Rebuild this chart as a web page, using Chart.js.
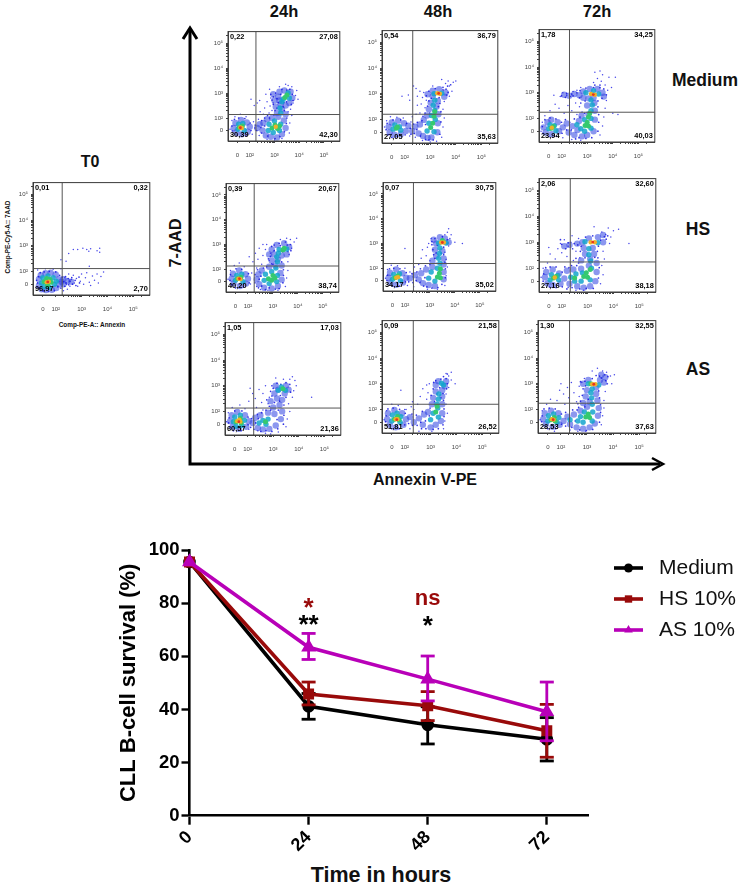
<!DOCTYPE html>
<html>
<head>
<meta charset="utf-8">
<script src="https://cdn.jsdelivr.net/npm/chart.js@4"></script>
<style>
  html, body { margin: 0; padding: 0; background: #fff; }
  body { position: relative; width: 742px; height: 887px; overflow: hidden; font-family: "Liberation Sans", Arial, sans-serif; }
  canvas { position: absolute; }
  canvas.dots { filter: blur(0.4px); }
  svg { position: absolute; left: 0; top: 0; }
  .lbl { position: absolute; font-weight: bold; color: #111; white-space: nowrap; transform: translate(-50%, -50%); }
  .rot { transform: translate(-50%, -50%) rotate(-90deg); }
</style>
</head>
<body>
<svg width="742" height="500">
  <path d="M190 30V464H660" fill="none" stroke="#000" stroke-width="3"/>
  <path d="M183 39L190 28L197 39" fill="none" stroke="#000" stroke-width="3"/>
  <path d="M652 458L663 464L652 470" fill="none" stroke="#000" stroke-width="2.5"/>
</svg>
<div class="lbl" style="left:90px;top:162px;font-size:16px">T0</div>
<div class="lbl" style="left:284px;top:11px;font-size:16.5px">24h</div>
<div class="lbl" style="left:438px;top:11px;font-size:16.5px">48h</div>
<div class="lbl" style="left:597px;top:11px;font-size:16.5px">72h</div>
<div class="lbl" style="left:705px;top:80px;font-size:17.5px">Medium</div>
<div class="lbl" style="left:698px;top:229px;font-size:17.5px">HS</div>
<div class="lbl" style="left:698px;top:369px;font-size:17.5px">AS</div>
<div class="lbl rot" style="left:176px;top:243px;font-size:16px">7-AAD</div>
<div class="lbl" style="left:425px;top:480px;font-size:16px">Annexin V-PE</div>
<div class="lbl rot" style="left:7px;top:237px;font-size:6.4px">Comp-PE-Cy5-A:: 7AAD</div>
<div class="lbl" style="left:92px;top:324px;font-size:6.4px">Comp-PE-A:: Annexin</div>
<div class="lbl" style="left:381px;top:875px;font-size:21.5px">Time in hours</div>

<script>
// survival curves
var hours = [0, 24, 48, 72];
var mediumMean = [95.5, 41.2, 34.2, 28.8];
var mediumLow = [95.5, 36.3, 27, 20.6];
var mediumHigh = [95.5, 46, 41, 36.9];
var hsMean = [95.5, 45.8, 41.4, 32];
var hsLow = [95.5, 41.7, 35.8, 22];
var hsHigh = [95.5, 50.3, 46.7, 41.9];
var asMean = [95.5, 63.4, 51.4, 39.1];
var asLow = [95.5, 58.8, 43.2, 28.2];
var asHigh = [95.5, 68.6, 60.1, 50.3];
var seriesNames = ["Medium", "HS 10%", "AS 10%"];
var survivalTicks = [0, 20, 40, 60, 80, 100];

// quadrant percentages: upper left, upper right, lower left, lower right
var t0Quad = ["0,01", "0,32", "96,97", "2,70"];
var med24Quad = ["0,22", "27,08", "30,39", "42,30"];
var med48Quad = ["0,54", "36,79", "27,05", "35,63"];
var med72Quad = ["1,78", "34,25", "23,94", "40,03"];
var hs24Quad = ["0,39", "20,67", "40,20", "38,74"];
var hs48Quad = ["0,07", "30,75", "34,17", "35,02"];
var hs72Quad = ["2,06", "32,60", "27,16", "38,18"];
var as24Quad = ["1,05", "17,03", "60,57", "21,36"];
var as48Quad = ["0,09", "21,58", "51,81", "26,52"];
var as72Quad = ["1,30", "32,55", "28,53", "37,63"];

// gate lines, in decades (annexin, 7-AAD)
var t0Gate = [2.25, 2.11];
var med24Gate = [2.25, 2.14];
var med48Gate = [2.32, 2.2];
var med72Gate = [2.31, 2.24];
var hs24Gate = [2.25, 2.13];
var hs48Gate = [2.34, 2.19];
var hs72Gate = [2.33, 2.24];
var as24Gate = [2.24, 2.13];
var as48Gate = [2.33, 2.2];
var as72Gate = [2.33, 2.24];

// events, decades on both axes, grouped by density colour
var t0Speck = [[2.35,1.75],[2.42,1.5],[2.5,1.9],[2.55,1.42],[2.6,1.68],[2.68,1.85],[2.72,1.55],[2.8,1.72],[2.85,1.42],[2.95,1.62],[3.0,1.9],[3.08,1.5],[3.15,1.75],[3.2,1.95],[3.3,1.58],[3.35,1.45],[3.42,1.82],[3.5,1.65],[3.6,1.9],[3.65,1.55],[3.75,1.8],[3.85,1.98],[2.3,1.25],[2.45,1.3],[2.2,2.1],[2.5,2.7],[2.4,2.4],[2.68,2.85],[2.85,2.85],[3.05,2.9],[3.2,2.85],[3.28,2.78],[3.35,2.88],[3.6,2.8],[3.7,2.9],[3.7,2.75],[2.2,2.45],[3.3,2.2],[1.3,2.05],[1.6,2.1],[1.9,2.08]];
var t0Fine = [[1.3,1.55],[1.33,1.8],[1.38,1.35],[1.4,1.95],[1.5,1.25],[1.55,1.98],[1.72,1.22],[1.75,2.0],[1.95,1.25],[2.0,1.98],[2.08,1.4],[2.15,1.85],[2.2,1.35],[2.25,1.78],[2.3,1.6],[2.35,1.42],[2.38,1.8],[2.4,1.55],[2.48,1.72],[2.5,1.48],[2.55,1.62],[2.65,1.5],[2.62,1.76],[2.75,1.65],[2.78,1.45],[2.9,1.78],[2.92,1.55],[1.26,1.65],[1.28,1.4]];
var t0Blue = [[1.35,1.45],[1.35,1.7],[1.42,1.85],[1.45,1.3],[1.6,1.93],[1.62,1.27],[1.8,1.95],[1.85,1.28],[2.0,1.88],[2.02,1.35],[2.12,1.7],[2.15,1.5],[2.22,1.6],[2.3,1.7],[2.3,1.5],[2.45,1.62],[2.6,1.6]];
var t0Teal = [[1.45,1.55],[1.5,1.75],[1.55,1.4],[1.7,1.82],[1.75,1.38],[1.9,1.75],[1.95,1.5],[2.02,1.62]];
var t0Green = [[1.55,1.6],[1.65,1.72],[1.68,1.47],[1.82,1.58],[1.78,1.68]];
var t0Hot = [[1.65,1.58],[1.73,1.6]];
var t0Red = [[1.69,1.59]];

var med24Speck = [[1.2,1.55],[1.28,1.9],[1.4,2.05],[1.62,2.15],[1.85,2.05],[2.1,1.35],[2.15,1.85],[2.2,1.6],[2.38,1.3],[2.35,1.95],[2.42,2.25],[2.18,2.5],[2.3,2.6],[2.05,2.75],[2.4,2.7],[2.55,2.15],[2.6,2.4],[2.7,2.65],[2.65,2.95],[2.78,2.2],[2.82,2.48],[2.85,2.8],[2.8,3.15],[2.9,2.3],[2.95,2.6],[3.6,1.4],[3.62,1.8],[3.7,2.1],[3.65,2.35],[3.75,2.6],[3.85,2.9],[3.9,3.1],[3.7,3.25],[3.55,3.3],[3.45,3.35],[3.2,3.25],[3.95,2.75],[3.55,2.25],[3.0,1.12],[2.7,1.15],[3.3,1.18]];
var med24Fine = [[1.28,1.68],[1.3,1.48],[1.38,1.95],[1.5,1.3],[1.55,2.0],[1.8,1.98],[1.85,1.3],[2.02,1.8],[2.05,1.5],[2.22,1.72],[2.28,1.5],[2.45,1.62],[2.48,1.4],[2.48,1.9],[2.6,1.68],[2.6,2.0],[2.72,1.28],[2.72,2.1],[2.8,2.0],[2.98,2.12],[3.02,1.18],[3.22,1.25],[3.4,1.45],[3.48,1.78],[3.5,2.0],[3.02,2.3],[3.4,2.3],[2.95,2.55],[3.15,2.62],[3.38,2.62],[3.48,2.65],[2.9,2.72],[2.95,2.85],[3.05,3.0],[3.1,2.78],[3.25,2.95],[3.3,3.15],[3.5,3.12],[3.62,3.15],[3.72,2.95],[3.75,2.7],[3.68,2.55],[3.35,2.45],[3.1,2.4],[2.85,2.95]];
var med24Blue = [[1.35,1.6],[1.42,1.8],[1.45,1.42],[1.65,1.92],[1.68,1.35],[1.88,1.82],[1.92,1.45],[2.0,1.65],[2.3,1.6],[2.4,1.75],[2.52,1.5],[2.55,1.8],[2.65,1.3],[2.7,1.95],[2.85,1.25],[2.9,2.0],[3.1,1.22],[3.15,2.05],[3.3,1.35],[3.38,1.9],[3.45,1.6],[3.45,2.15],[3.1,2.2],[3.3,2.35],[3.05,2.45],[3.25,2.55],[3.45,2.5],[3.0,2.7],[3.15,2.85],[2.95,2.95],[3.2,3.05],[3.4,3.1],[3.65,3.05],[3.72,2.8],[3.6,2.6],[3.2,2.7]];
var med24Teal = [[1.52,1.55],[1.55,1.75],[1.72,1.78],[1.78,1.5],[2.75,1.5],[2.78,1.75],[2.95,1.42],[3.0,1.88],[3.2,1.5],[3.25,1.75],[3.25,2.2],[3.22,2.4],[3.3,2.65],[3.35,2.75],[3.55,3.0],[3.6,2.8]];
var med24Green = [[1.58,1.62],[1.7,1.68],[2.9,1.6],[3.02,1.72],[3.12,1.58],[3.2,1.68],[3.42,2.82],[3.5,2.92]];
var med24Hot = [[1.62,1.62],[1.68,1.6],[3.05,1.65]];
var med24Red = [[1.62,1.61]];

var med48Speck = [[1.22,1.7],[1.3,1.95],[1.45,2.1],[1.7,2.08],[1.95,2.05],[2.2,1.35],[2.25,1.9],[2.3,2.1],[2.42,1.3],[2.45,2.2],[2.5,2.55],[2.2,2.75],[2.15,2.95],[2.5,2.9],[2.6,2.25],[2.65,2.6],[2.7,2.85],[2.75,3.05],[2.8,2.45],[2.85,2.75],[2.6,3.1],[3.45,1.3],[3.5,1.7],[3.55,2.05],[3.5,2.4],[3.55,2.7],[3.75,2.9],[3.85,3.1],[3.75,3.3],[3.6,3.4],[3.9,3.45],[3.7,3.5],[3.45,3.55],[3.1,3.3],[3.0,1.12],[2.7,1.18],[3.25,1.15],[4.0,3.5],[1.9,2.9],[2.35,3.3],[2.45,3.2]];
var med48Fine = [[1.28,1.6],[1.32,1.85],[1.35,1.4],[1.5,1.3],[1.55,1.98],[1.72,1.32],[1.85,1.98],[2.02,1.4],[2.08,1.85],[2.22,1.65],[2.25,1.42],[2.35,1.82],[2.38,1.45],[2.48,1.6],[2.5,1.88],[2.62,1.35],[2.68,1.95],[2.72,2.12],[2.82,1.22],[2.82,1.8],[2.95,1.2],[2.8,2.25],[2.98,2.25],[3.12,1.2],[3.38,1.42],[3.42,1.9],[3.42,2.3],[2.9,2.52],[3.32,2.5],[3.38,2.62],[2.95,2.72],[3.05,2.82],[3.35,2.85],[2.85,2.92],[2.95,3.1],[3.2,3.2],[3.5,3.15],[3.62,3.18],[3.7,3.05],[3.65,2.95],[3.5,3.25],[3.68,3.3],[3.8,3.35]];
var med48Blue = [[1.38,1.72],[1.42,1.5],[1.5,1.88],[1.6,1.4],[1.75,1.95],[1.85,1.42],[1.98,1.85],[2.05,1.55],[2.15,1.75],[2.3,1.55],[2.42,1.72],[2.55,1.45],[2.6,1.8],[2.72,1.35],[2.75,1.98],[2.9,1.28],[2.88,2.15],[3.05,1.3],[3.28,1.5],[3.3,1.85],[3.32,2.2],[2.95,2.4],[3.25,2.5],[3.02,2.65],[3.3,2.72],[3.1,2.9],[2.9,2.98],[3.1,3.12],[3.35,3.18],[3.6,3.05],[3.55,2.88]];
var med48Teal = [[1.55,1.62],[1.62,1.78],[1.8,1.72],[1.85,1.58],[2.88,1.55],[2.95,1.85],[3.15,1.52],[3.2,2.0],[3.05,2.15],[3.18,2.35],[3.12,2.55],[3.18,2.75],[3.15,3.0],[3.45,3.02]];
var med48Green = [[1.68,1.65],[1.72,1.7],[3.02,1.68],[3.1,1.85],[3.15,2.12],[3.18,2.3]];
var med48Hot = [[3.28,3.02],[3.38,3.0]];
var med48Red = [[3.33,3.01]];

var med72Speck = [[1.2,1.5],[1.25,1.85],[1.35,2.1],[1.55,2.3],[1.75,2.55],[1.9,2.4],[1.95,2.85],[2.05,3.0],[2.2,2.9],[2.1,2.2],[2.25,2.5],[2.35,2.85],[2.45,3.05],[2.4,2.3],[2.55,2.6],[2.6,3.1],[2.6,2.15],[2.7,2.45],[2.75,3.2],[2.8,2.25],[2.05,1.25],[2.4,1.18],[2.75,1.15],[3.5,1.35],[3.6,1.7],[3.65,2.05],[3.7,2.4],[3.75,2.7],[3.8,3.1],[3.7,3.3],[3.55,3.45],[3.4,3.55],[3.6,3.7],[3.25,3.4],[3.85,3.6],[3.95,3.2],[4.1,3.6],[4.0,2.2],[4.2,2.15],[1.7,2.9],[3.3,3.8],[3.5,3.85]];
var med72Fine = [[1.25,1.68],[1.28,1.42],[1.35,1.95],[1.5,1.3],[1.55,2.02],[1.78,1.98],[1.8,1.3],[2.0,1.85],[2.02,1.42],[2.15,1.95],[2.2,1.55],[2.32,1.85],[2.38,1.55],[2.5,1.98],[2.55,1.2],[2.72,2.05],[2.68,1.25],[2.95,1.22],[3.18,1.25],[3.42,1.5],[3.45,1.85],[3.45,2.15],[2.9,2.2],[2.75,2.6],[3.42,2.45],[2.92,2.68],[3.42,2.68],[2.7,2.8],[2.45,2.88],[2.2,2.98],[2.0,2.88],[2.6,3.0],[2.4,2.95],[2.72,3.08],[2.95,3.18],[3.25,3.2],[3.5,3.2],[3.65,3.15],[3.75,2.92],[3.5,3.3],[3.3,3.3],[3.58,2.78],[2.15,2.82]];
var med72Blue = [[1.3,1.65],[1.38,1.45],[1.45,1.85],[1.6,1.95],[1.62,1.38],[1.85,1.85],[1.9,1.5],[2.05,1.65],[2.2,1.8],[2.28,1.45],[2.42,1.7],[2.5,1.35],[2.62,1.55],[2.68,1.9],[2.8,1.3],[2.78,2.1],[3.0,1.35],[3.05,2.15],[3.25,1.5],[3.3,1.95],[3.3,2.3],[3.0,2.5],[3.28,2.6],[3.05,2.78],[3.25,2.8],[2.7,2.9],[2.5,2.95],[2.3,2.88],[2.1,2.92],[2.85,3.05],[3.1,3.15],[3.4,3.15],[3.6,3.0],[3.65,2.85],[2.85,2.8]];
var med72Teal = [[1.5,1.6],[1.55,1.75],[1.72,1.72],[1.78,1.52],[2.6,1.75],[2.75,1.6],[2.9,1.5],[2.9,1.95],[3.15,1.62],[3.15,2.0],[3.15,2.3],[3.2,2.52],[3.15,2.72],[2.95,3.0],[3.45,2.95],[3.25,3.08]];
var med72Green = [[1.6,1.62],[1.68,1.68],[2.92,1.72],[3.0,1.85],[3.05,1.7],[3.05,2.05],[3.1,2.2]];
var med72Hot = [[1.62,1.64],[3.15,2.95],[3.3,2.92]];
var med72Red = [[3.24,2.93]];

var hs24Speck = [[1.2,1.6],[1.3,1.95],[1.45,2.15],[1.65,2.25],[1.85,2.1],[2.1,1.4],[2.15,1.85],[2.05,2.5],[2.2,2.3],[2.3,2.65],[2.35,2.05],[2.4,2.4],[2.45,2.85],[2.35,1.3],[2.55,2.2],[2.6,2.55],[2.7,2.8],[2.75,3.0],[2.85,2.35],[2.9,2.65],[2.6,3.0],[3.5,1.3],[3.55,1.65],[3.6,1.95],[3.6,2.3],[3.65,2.6],[3.75,2.85],[3.85,3.1],[3.7,3.2],[3.95,3.25],[3.55,3.25],[3.3,3.2],[3.2,1.15],[2.8,1.15],[2.5,1.18]];
var hs24Fine = [[1.28,1.55],[1.3,1.78],[1.35,1.38],[1.5,1.25],[1.52,2.02],[1.75,2.0],[1.82,1.28],[2.02,1.82],[2.05,1.45],[2.28,1.45],[2.28,1.78],[2.38,1.98],[2.45,1.6],[2.42,1.25],[2.52,1.72],[2.55,1.32],[2.62,2.05],[2.7,1.18],[2.75,2.1],[2.85,1.25],[2.95,2.22],[3.1,1.2],[3.25,1.22],[3.4,1.45],[3.42,1.75],[3.42,1.98],[3.0,2.2],[3.35,2.3],[2.82,2.42],[3.1,2.32],[2.9,2.52],[3.4,2.7],[3.05,2.75],[2.95,2.92],[3.05,2.98],[3.25,3.05],[3.5,3.1],[3.7,3.0],[3.72,2.75],[3.58,2.98],[3.6,2.72],[3.3,2.95]];
var hs24Blue = [[1.35,1.62],[1.4,1.82],[1.42,1.42],[1.65,1.95],[1.68,1.32],[1.9,1.8],[1.92,1.42],[2.0,1.62],[2.35,1.6],[2.42,1.8],[2.45,1.4],[2.55,1.95],[2.65,1.25],[2.85,2.1],[2.95,1.22],[3.1,2.15],[3.2,1.32],[3.3,1.85],[3.35,1.58],[3.35,2.15],[2.95,2.35],[3.2,2.4],[3.05,2.6],[3.35,2.55],[2.95,2.8],[3.15,2.98],[3.45,3.05],[3.65,2.9],[3.55,2.6],[2.85,2.6]];
var hs24Teal = [[1.5,1.55],[1.55,1.75],[1.75,1.8],[1.8,1.5],[2.65,1.55],[2.7,1.8],[2.85,1.42],[2.95,1.9],[3.15,1.5],[3.18,1.75],[3.12,2.05],[3.18,2.3],[3.15,2.5],[3.22,2.65],[3.25,2.8],[3.55,2.82]];
var hs24Green = [[1.58,1.62],[1.72,1.68],[2.82,1.62],[2.95,1.55],[3.0,1.75],[3.08,1.65],[3.4,2.78],[3.45,2.85]];
var hs24Hot = [[1.62,1.62],[1.7,1.6]];
var hs24Red = [[1.66,1.62]];

var hs48Speck = [[1.22,1.6],[1.3,1.95],[1.45,2.12],[1.7,2.1],[2.0,2.0],[2.1,1.3],[2.2,1.85],[2.0,2.8],[2.35,1.25],[2.38,2.05],[2.55,2.15],[2.65,2.4],[2.7,2.75],[2.85,2.5],[2.9,2.85],[2.95,3.0],[3.0,2.3],[3.05,3.2],[3.6,1.3],[3.65,1.7],[3.7,2.05],[3.65,2.35],[3.6,2.65],[3.75,2.9],[3.8,3.2],[3.85,3.35],[3.7,3.45],[3.75,3.6],[3.6,3.35],[4.0,3.05],[4.3,3.0],[3.3,1.15],[2.9,1.15]];
var hs48Fine = [[1.28,1.5],[1.3,1.72],[1.38,1.98],[1.5,1.28],[1.55,2.0],[1.78,1.28],[1.8,1.98],[2.02,1.45],[2.05,1.82],[2.15,1.45],[2.28,1.78],[2.32,1.42],[2.45,1.5],[2.48,1.85],[2.6,1.42],[2.62,1.98],[2.75,1.28],[2.82,2.1],[2.8,1.62],[2.88,1.25],[3.0,2.15],[3.08,1.2],[3.32,1.22],[3.48,1.35],[3.62,1.62],[3.62,1.98],[3.25,2.2],[3.6,2.25],[3.15,2.55],[3.55,2.55],[3.12,2.75],[3.3,2.92],[3.55,2.85],[3.08,2.95],[3.08,3.08],[3.2,3.2],[3.5,3.28],[3.7,3.15],[3.72,3.02],[3.45,2.6],[3.2,2.4],[3.25,2.62]];
var hs48Blue = [[1.35,1.62],[1.4,1.82],[1.42,1.42],[1.65,1.95],[1.65,1.33],[1.9,1.8],[1.92,1.42],[2.05,1.62],[2.2,1.6],[2.4,1.72],[2.55,1.55],[2.65,1.8],[2.72,1.4],[2.85,1.95],[2.95,1.32],[3.1,2.05],[3.2,1.28],[3.55,1.55],[3.55,1.85],[3.55,2.15],[3.1,2.3],[3.25,2.5],[3.55,2.4],[3.2,2.75],[3.5,2.7],[3.25,3.0],[3.15,3.15],[3.6,3.2],[3.75,3.05],[3.4,3.25]];
var hs48Teal = [[1.5,1.55],[1.55,1.75],[1.78,1.78],[1.82,1.5],[2.95,1.6],[3.05,1.85],[3.2,1.48],[3.3,2.0],[3.4,2.2],[3.35,2.4],[3.38,2.6],[3.4,2.82],[3.35,3.02],[3.65,3.02]];
var hs48Green = [[1.6,1.62],[1.72,1.7],[3.3,1.65],[3.38,1.8],[3.42,1.62],[3.42,1.98],[3.5,3.12]];
var hs48Hot = [[1.65,1.62],[1.72,1.64],[3.45,3.04],[3.56,3.04]];
var hs48Red = [[3.5,3.04]];

var hs72Speck = [[1.2,1.65],[1.28,2.0],[1.45,2.2],[1.55,2.55],[1.75,2.35],[1.85,2.75],[1.95,2.95],[2.1,3.1],[2.0,2.6],[2.2,2.45],[2.25,2.85],[2.35,3.0],[2.45,2.3],[2.55,2.65],[2.65,3.15],[2.7,2.4],[2.25,1.25],[2.55,1.15],[2.85,1.15],[3.5,1.4],[3.6,1.75],[3.55,2.1],[3.65,2.35],[3.6,2.65],[3.85,2.95],[3.9,3.2],[3.7,3.3],[3.55,3.4],[4.0,3.45],[3.8,3.55],[4.2,3.5],[3.25,3.6],[4.6,2.95],[1.5,2.8],[2.4,3.25]];
var hs72Fine = [[1.28,1.5],[1.3,1.78],[1.38,2.02],[1.52,1.28],[1.55,2.05],[1.78,1.25],[1.78,2.05],[2.02,1.28],[2.02,1.85],[2.12,2.05],[2.2,1.2],[2.28,2.02],[2.4,1.25],[2.38,2.1],[2.58,2.1],[2.7,1.2],[2.65,2.2],[2.95,1.22],[3.22,1.22],[3.42,1.62],[3.45,2.02],[2.55,2.38],[2.62,2.9],[2.42,2.75],[2.72,2.65],[2.75,2.85],[2.48,2.95],[2.25,2.98],[2.15,2.75],[2.0,2.92],[1.95,3.1],[2.9,2.4],[3.4,2.4],[3.38,2.65],[3.42,2.85],[3.5,3.08],[3.72,3.12],[3.78,3.25],[3.2,3.25],[2.92,3.2],[3.65,3.22],[3.28,2.42]];
var hs72Blue = [[1.35,1.65],[1.4,1.85],[1.45,1.42],[1.65,1.95],[1.65,1.35],[1.9,1.8],[1.95,1.4],[2.1,1.6],[2.2,1.9],[2.3,1.4],[2.45,1.95],[2.6,1.3],[2.75,1.98],[2.85,1.25],[3.05,2.1],[3.1,1.3],[3.3,1.5],[3.35,1.85],[3.35,2.2],[2.75,2.3],[3.1,2.35],[2.9,2.55],[3.25,2.55],[2.85,2.78],[3.2,2.78],[2.8,3.0],[2.6,2.95],[2.3,2.9],[2.1,2.85],[3.05,3.15],[3.4,3.2],[3.6,3.0],[3.6,3.28]];
var hs72Teal = [[1.55,1.55],[1.6,1.75],[1.85,1.72],[1.88,1.55],[2.35,1.65],[2.5,1.5],[2.55,1.78],[2.75,1.5],[2.8,1.82],[3.1,1.55],[3.15,2.0],[3.12,2.28],[3.05,2.52],[3.05,2.75],[2.9,3.02],[3.4,2.98]];
var hs72Green = [[1.68,1.62],[1.78,1.68],[2.5,1.62],[2.85,1.68],[2.95,1.82],[3.0,1.65],[3.1,1.95]];
var hs72Hot = [[1.73,1.64],[3.12,3.0],[3.28,3.0]];
var hs72Red = [[3.2,3.01]];

var as24Speck = [[1.18,1.6],[1.25,1.95],[1.4,2.15],[1.7,2.25],[1.9,2.1],[2.05,1.3],[2.05,2.4],[2.2,2.7],[2.1,2.9],[2.3,2.5],[2.35,2.15],[2.45,2.85],[2.55,2.35],[2.6,2.7],[2.7,3.0],[2.8,2.3],[2.85,2.55],[2.4,1.25],[2.7,1.15],[3.5,1.4],[3.55,1.7],[3.65,2.0],[3.6,2.3],[3.75,2.55],[3.8,2.8],[3.9,3.0],[3.85,3.2],[3.65,3.25],[3.75,3.35],[3.4,3.25],[3.1,3.3],[4.5,2.55],[3.2,1.2],[2.9,1.12],[2.6,2.05]];
var as24Fine = [[1.26,1.55],[1.28,1.75],[1.32,1.38],[1.45,1.25],[1.5,2.02],[1.75,1.25],[1.78,2.02],[2.02,1.48],[2.02,1.78],[2.12,1.38],[2.15,1.72],[2.25,1.3],[2.32,1.55],[2.38,1.88],[2.42,1.72],[2.55,1.95],[2.52,1.22],[2.72,1.25],[2.72,2.05],[2.9,2.05],[2.95,1.22],[3.15,1.68],[3.18,1.32],[3.4,1.5],[3.42,1.85],[3.2,2.05],[2.85,2.2],[3.05,2.35],[3.42,2.25],[2.75,2.45],[2.95,2.6],[3.28,2.62],[3.5,2.55],[2.9,2.78],[3.0,2.9],[3.3,3.05],[3.5,3.12],[3.65,3.05],[3.68,2.75],[2.95,3.0],[3.15,3.1],[3.25,2.4]];
var as24Blue = [[1.32,1.62],[1.38,1.85],[1.42,1.4],[1.6,1.98],[1.65,1.32],[1.9,1.85],[1.95,1.4],[2.05,1.62],[2.2,1.55],[2.3,1.75],[2.4,1.35],[2.5,1.85],[2.6,1.3],[2.8,1.95],[2.85,1.32],[3.05,1.9],[3.1,1.45],[3.3,1.7],[3.35,2.0],[3.0,2.15],[3.25,2.25],[2.9,2.4],[3.15,2.5],[3.35,2.45],[3.05,2.7],[3.2,2.85],[3.45,2.7],[3.1,3.0],[3.6,2.85],[3.5,3.0]];
var as24Teal = [[1.45,1.6],[1.5,1.78],[1.55,1.42],[1.72,1.85],[1.78,1.45],[1.88,1.65],[2.45,1.55],[2.6,1.65],[2.72,1.5],[2.8,1.7],[3.2,2.82],[3.32,2.95],[3.48,2.82]];
var as24Green = [[1.55,1.6],[1.72,1.72],[1.75,1.55],[2.7,1.6],[3.38,2.88]];
var as24Hot = [[1.6,1.62],[1.72,1.6],[1.68,1.68]];
var as24Red = [[1.66,1.6]];

var as48Speck = [[1.2,1.6],[1.3,1.95],[1.5,2.2],[1.75,2.15],[2.0,2.0],[2.2,1.25],[2.25,2.1],[2.3,2.3],[2.5,2.2],[2.55,1.15],[2.6,2.5],[2.7,2.8],[2.85,2.4],[2.9,2.65],[2.95,3.0],[2.85,2.95],[3.05,1.15],[3.5,1.25],[3.55,1.55],[3.65,1.85],[3.6,2.2],[3.6,2.6],[3.7,2.85],[3.8,3.15],[3.7,3.3],[3.8,3.45],[3.95,3.0],[3.6,3.4],[2.35,2.0],[1.85,2.75],[2.05,2.0]];
var as48Fine = [[1.26,1.52],[1.28,1.75],[1.35,2.02],[1.5,1.25],[1.55,2.05],[1.78,1.25],[1.8,2.0],[2.0,1.4],[2.02,1.85],[2.15,1.45],[2.28,1.82],[2.3,1.38],[2.45,1.78],[2.48,1.38],[2.62,1.5],[2.65,1.25],[2.68,1.92],[2.8,1.55],[2.82,1.25],[2.95,1.75],[2.98,2.05],[3.1,1.22],[3.3,1.25],[3.48,1.4],[3.52,1.72],[3.52,2.02],[3.15,2.3],[3.5,2.35],[3.02,2.55],[3.48,2.62],[3.1,2.8],[3.35,2.85],[3.25,2.6],[3.12,3.05],[3.2,3.12],[3.4,3.18],[3.6,3.2],[3.65,3.0],[3.62,2.8],[3.5,3.28],[3.65,3.38],[3.4,2.45]];
var as48Blue = [[1.32,1.62],[1.35,1.85],[1.42,1.4],[1.6,1.98],[1.65,1.3],[1.9,1.85],[1.95,1.4],[2.05,1.62],[2.2,1.7],[2.35,1.5],[2.55,1.65],[2.7,1.4],[2.75,1.8],[2.9,1.9],[3.0,1.3],[3.2,1.4],[3.4,1.55],[3.45,1.85],[3.05,2.2],[3.45,2.2],[3.1,2.45],[3.45,2.5],[3.2,2.7],[3.45,2.75],[3.2,2.95],[3.3,3.1],[3.6,3.1],[3.55,2.9]];
var as48Teal = [[1.5,1.55],[1.52,1.78],[1.7,1.85],[1.82,1.5],[1.85,1.72],[3.0,1.6],[3.1,1.85],[3.3,1.7],[3.28,2.05],[3.25,2.2],[3.3,2.4],[3.32,2.6],[3.42,3.02],[3.5,2.95]];
var as48Green = [[1.6,1.62],[1.72,1.72],[1.78,1.6],[3.2,1.9],[3.25,2.12]];
var as48Hot = [[1.65,1.62],[1.72,1.62]];
var as48Red = [[1.69,1.6]];

var as72Speck = [[1.2,1.6],[1.28,1.95],[1.45,2.2],[1.6,2.4],[1.85,2.35],[1.95,2.75],[2.0,3.0],[2.1,2.6],[2.15,2.2],[2.25,2.85],[2.3,2.45],[2.4,3.05],[2.5,2.65],[2.6,2.3],[2.7,2.9],[2.7,2.5],[2.8,3.05],[2.35,1.2],[2.65,1.15],[2.95,1.15],[3.55,1.4],[3.6,1.75],[3.65,2.05],[3.65,2.35],[3.7,2.7],[3.95,3.0],[3.9,3.3],[3.75,3.45],[3.6,3.5],[4.05,3.35],[3.2,3.5],[3.4,3.6],[2.9,3.2],[1.75,1.15]];
var as72Fine = [[1.26,1.52],[1.28,1.75],[1.35,2.02],[1.5,1.25],[1.55,2.05],[1.8,1.25],[1.78,2.02],[2.02,1.42],[2.02,1.82],[2.18,1.35],[2.18,1.88],[2.32,1.62],[2.42,1.3],[2.45,1.98],[2.55,1.55],[2.62,1.98],[2.72,1.2],[2.68,2.08],[2.92,2.1],[2.98,1.18],[3.22,1.22],[3.48,1.5],[3.52,1.88],[3.52,2.18],[2.75,2.32],[3.48,2.45],[2.82,2.55],[3.45,2.72],[2.85,2.8],[2.95,2.92],[2.75,3.08],[2.92,3.1],[3.2,3.2],[3.55,3.22],[3.72,3.12],[3.78,3.0],[3.68,3.35],[3.48,3.3],[3.8,3.28],[3.35,3.32],[3.05,2.4],[2.65,2.22]];
var as72Blue = [[1.32,1.62],[1.38,1.85],[1.42,1.42],[1.62,1.95],[1.68,1.32],[1.9,1.85],[1.95,1.4],[2.1,1.55],[2.25,1.72],[2.35,1.42],[2.5,1.8],[2.6,1.3],[2.75,1.95],[2.85,1.25],[3.0,2.1],[3.1,1.3],[3.3,1.45],[3.42,1.75],[3.45,2.05],[2.85,2.25],[3.1,2.3],[3.4,2.35],[2.95,2.5],[3.35,2.6],[3.0,2.75],[3.35,2.85],[2.85,3.0],[3.05,3.15],[3.5,3.15],[3.65,3.05],[3.7,3.25],[3.55,3.35]];
var as72Teal = [[1.5,1.55],[1.52,1.75],[1.72,1.82],[1.85,1.5],[1.92,1.68],[2.35,1.6],[2.65,1.55],[2.75,1.72],[2.85,1.5],[2.9,1.9],[3.2,1.55],[3.22,1.9],[3.2,2.2],[3.18,2.45],[3.15,2.65],[3.2,2.8],[3.05,3.0],[3.45,2.95]];
var as72Green = [[1.62,1.6],[1.75,1.68],[1.78,1.55],[2.95,1.7],[3.05,1.82],[3.1,1.68],[3.15,3.0]];
var as72Hot = [[1.65,1.62],[1.72,1.6],[3.2,2.98],[3.32,2.98]];
var as72Red = [[1.7,1.6],[3.26,2.98]];

// axis decades shared by all dot plots
var decadeTicks = [1.5, 2, 3, 4, 5];
var decadeLabels = ["0", "10\u00b2", "10\u00b3", "10\u2074", "10\u2075"];

var xRange = [1.12, 5.64], yRange = [1.08, 5.46];
var minor = [];
[1, 2, 3, 4, 5].forEach(function (d) {
  [2, 3, 4, 5, 6, 7, 8, 9].forEach(function (m) {
    var v = d + Math.log10(m);
    if (d > 1 && v < 5.45) minor.push(v);
  });
});

function pts(a) {
  return a.map(function (p) { return { x: p[0], y: p[1] }; });
}

function cloud(data, color, radius, order) {
  return { type: "scatter", data: pts(data), backgroundColor: color, pointRadius: radius, pointBorderWidth: 0, pointHoverRadius: radius, order: order };
}

var framePlugin = {
  id: "frame",
  afterDatasetsDraw: function (chart, args, opts) {
    var a = chart.chartArea, c = chart.ctx, q = opts.quad;
    c.save();
    c.strokeStyle = "#3a3a3a";
    c.lineWidth = 1;
    c.strokeRect(a.left, a.top, a.right - a.left, a.bottom - a.top);
    c.font = "bold 7.4px 'Liberation Sans', Arial, sans-serif";
    c.fillStyle = "#000";
    c.textBaseline = "middle";
    c.textAlign = "left";
    c.fillText(q[0], a.left + 2, a.top + 5);
    c.fillText(q[2], a.left + 2, a.bottom - 6);
    c.textAlign = "right";
    c.fillText(q[1], a.right - 2, a.top + 5);
    c.fillText(q[3], a.right - 2, a.bottom - 6);
    c.restore();
  }
};

function dotPlot(box, speck, fine, blue, teal, green, hot, red, gate, quad) {
  var cv = document.createElement("canvas");
  var w = box[1] - box[0], h = box[3] - box[2];
  cv.width = w + 26; cv.height = h + 26;
  cv.className = "dots";
  cv.style.left = box[0] - 24 + "px";
  cv.style.top = box[2] - 2 + "px";
  document.body.appendChild(cv);
  var axisTicks = function (scale) {
    scale.ticks = decadeTicks.concat(minor).map(function (v) { return { value: v }; });
  };
  var tickLabel = function (v) {
    var i = decadeTicks.indexOf(v);
    return i < 0 ? "" : decadeLabels[i];
  };
  new Chart(cv, {
    type: "scatter",
    data: {
      datasets: [
        { type: "line", data: [{ x: gate[0], y: yRange[0] }, { x: gate[0], y: yRange[1] }], borderColor: "#555", borderWidth: 1, pointRadius: 0, order: 1 },
        { type: "line", data: [{ x: xRange[0], y: gate[1] }, { x: xRange[1], y: gate[1] }], borderColor: "#555", borderWidth: 1, pointRadius: 0, order: 1 },
        cloud(red, "#e8331f", 1.4, 2),
        cloud(hot, "#eeb12a", 2.2, 3),
        cloud(green, "#35c96f", 2.5, 4),
        cloud(teal, "rgba(20,165,205,0.85)", 2.7, 5),
        cloud(speck, "rgba(40,40,230,0.85)", 0.75, 6),
        cloud(fine, "rgba(30,30,225,0.9)", 0.85, 6),
        cloud(blue, "rgba(45,65,225,0.55)", 3.2, 7)
      ]
    },
    options: {
      responsive: false,
      animation: false,
      events: [],
      layout: { padding: { left: 0, top: 2, right: 2, bottom: 0 } },
      plugins: { legend: { display: false }, tooltip: { enabled: false }, frame: { quad: quad } },
      scales: {
        x: {
          type: "linear", min: xRange[0], max: xRange[1],
          afterBuildTicks: axisTicks,
          afterFit: function (s) { s.height = 24; },
          border: { color: "#444" },
          grid: { drawOnChartArea: false, tickLength: 2, tickColor: "#444" },
          ticks: { callback: tickLabel, autoSkip: false, maxRotation: 0, padding: 9, color: "#444", font: { size: 6, family: "'Liberation Sans'" } }
        },
        y: {
          type: "linear", min: yRange[0], max: yRange[1],
          afterBuildTicks: axisTicks,
          afterFit: function (s) { s.width = 24; },
          border: { color: "#444" },
          grid: { drawOnChartArea: false, tickLength: 2, tickColor: "#444" },
          ticks: { callback: tickLabel, autoSkip: false, padding: 3, color: "#444", font: { size: 6, family: "'Liberation Sans'" } }
        }
      }
    },
    plugins: [framePlugin]
  });
}

dotPlot([33, 151, 178, 295], t0Speck, t0Fine, t0Blue, t0Teal, t0Green, t0Hot, t0Red, t0Gate, t0Quad);
dotPlot([228, 341, 27, 141], med24Speck, med24Fine, med24Blue, med24Teal, med24Green, med24Hot, med24Red, med24Gate, med24Quad);
dotPlot([382, 499, 26, 143], med48Speck, med48Fine, med48Blue, med48Teal, med48Green, med48Hot, med48Red, med48Gate, med48Quad);
dotPlot([539, 656, 25, 142], med72Speck, med72Fine, med72Blue, med72Teal, med72Green, med72Hot, med72Red, med72Gate, med72Quad);
dotPlot([226, 340, 179, 292], hs24Speck, hs24Fine, hs24Blue, hs24Teal, hs24Green, hs24Hot, hs24Red, hs24Gate, hs24Quad);
dotPlot([383, 497, 178, 291], hs48Speck, hs48Fine, hs48Blue, hs48Teal, hs48Green, hs48Hot, hs48Red, hs48Gate, hs48Quad);
dotPlot([539, 657, 174, 292], hs72Speck, hs72Fine, hs72Blue, hs72Teal, hs72Green, hs72Hot, hs72Red, hs72Gate, hs72Quad);
dotPlot([225, 342, 318, 435], as24Speck, as24Fine, as24Blue, as24Teal, as24Green, as24Hot, as24Red, as24Gate, as24Quad);
dotPlot([382, 500, 316, 433], as48Speck, as48Fine, as48Blue, as48Teal, as48Green, as48Hot, as48Red, as48Gate, as48Quad);
dotPlot([538, 657, 316, 433], as72Speck, as72Fine, as72Blue, as72Teal, as72Green, as72Hot, as72Red, as72Gate, as72Quad);

// survival chart
var black = "#000000", red = "#990a0a", purple = "#b800b8";

function meanLine(label, mean, color, style, r, order) {
  return {
    label: label,
    data: hours.map(function (h, i) { return { x: h, y: mean[i] }; }),
    showLine: true, borderColor: color, backgroundColor: color, borderWidth: 3.6,
    pointStyle: style, pointRadius: r, pointHoverRadius: r, order: order
  };
}
function errorBars(low, high, color, order) {
  var d = [];
  hours.forEach(function (h, i) {
    if (i == 0) return;
    d.push({ x: h, y: low[i] }, { x: h, y: high[i] }, { x: NaN, y: NaN });
  });
  return {
    data: d, showLine: true, spanGaps: false, borderColor: color, borderWidth: 2.8,
    pointStyle: "line", pointRadius: 7, pointBorderWidth: 2.8, pointBorderColor: color, pointHoverRadius: 7, order: order
  };
}

var starNotes = [
  { x: 24, y: 78, text: "*", color: red, font: "bold 26px 'Liberation Sans'" },
  { x: 24, y: 71.5, text: "**", color: black, font: "bold 26px 'Liberation Sans'" },
  { x: 48, y: 81.5, text: "ns", color: red, font: "bold 22px 'Liberation Sans'" },
  { x: 48, y: 71.2, text: "*", color: black, font: "bold 26px 'Liberation Sans'" }
];

var notesPlugin = {
  id: "notes",
  afterDatasetsDraw: function (chart) {
    var c = chart.ctx, sx = chart.scales.x, sy = chart.scales.y;
    c.save();
    c.textAlign = "center";
    c.textBaseline = "middle";
    starNotes.forEach(function (n) {
      c.font = n.font;
      c.fillStyle = n.color;
      c.fillText(n.text, sx.getPixelForValue(n.x), sy.getPixelForValue(n.y));
    });
    var styles = ["circle", "rect", "triangle"], radii = [4.5, 5.2, 5], colors = [black, red, purple];
    seriesNames.forEach(function (name, i) {
      var y = 38 + i * 31;
      c.strokeStyle = colors[i];
      c.lineWidth = 3.6;
      c.beginPath();
      c.moveTo(614, y);
      c.lineTo(643, y);
      c.stroke();
      c.fillStyle = colors[i];
      Chart.helpers.drawPoint(c, { pointStyle: styles[i], radius: radii[i], rotation: 0, borderWidth: 0 }, 628.5, y);
      c.fillStyle = "#111";
      c.textAlign = "left";
      c.font = "21px 'Liberation Sans'";
      c.fillText(name, 659, y);
    });
    c.restore();
  }
};

var mainCv = document.createElement("canvas");
mainCv.width = 742; mainCv.height = 357;
mainCv.style.left = "0px";
mainCv.style.top = "530px";
document.body.appendChild(mainCv);
new Chart(mainCv, {
  type: "scatter",
  data: {
    datasets: [
      meanLine(seriesNames[0], mediumMean, black, "circle", 4.5, 6),
      errorBars(mediumLow, mediumHigh, black, 5),
      meanLine(seriesNames[1], hsMean, red, "rect", 5.2, 4),
      errorBars(hsLow, hsHigh, red, 3),
      meanLine(seriesNames[2], asMean, purple, "triangle", 5, 2),
      errorBars(asLow, asHigh, purple, 1)
    ]
  },
  options: {
    responsive: false,
    animation: false,
    clip: false,
    events: [],
    layout: { padding: { left: 116, top: 20, right: 154, bottom: 0 } },
    plugins: { legend: { display: false }, tooltip: { enabled: false } },
    scales: {
      x: {
        type: "linear", min: 0, max: 80.3,
        afterBuildTicks: function (s) { s.ticks = hours.map(function (h) { return { value: h }; }); },
        afterFit: function (s) { s.height = 71.3; },
        border: { color: "#000", width: 2.6 },
        grid: { drawOnChartArea: false, tickLength: 9, tickColor: "#000", tickWidth: 2.4 },
        ticks: { minRotation: 45, maxRotation: 45, padding: 2, color: "#000", font: { size: 18, weight: "bold", family: "'Liberation Sans'" } }
      },
      y: {
        type: "linear", min: 0, max: 100,
        afterBuildTicks: function (s) { s.ticks = survivalTicks.map(function (v) { return { value: v }; }); },
        afterFit: function (s) { s.width = 73.5; },
        border: { color: "#000", width: 2.6 },
        grid: { drawOnChartArea: false, tickLength: 8, tickColor: "#000", tickWidth: 2.4 },
        title: { display: true, text: "CLL B-cell survival (%)", color: "#000", padding: 0, font: { size: 22, weight: "bold", family: "'Liberation Sans'" } },
        ticks: { padding: 2, color: "#000", font: { size: 18.5, weight: "bold", family: "'Liberation Sans'" } }
      }
    }
  },
  plugins: [notesPlugin]
});
</script>
</body>
</html>
